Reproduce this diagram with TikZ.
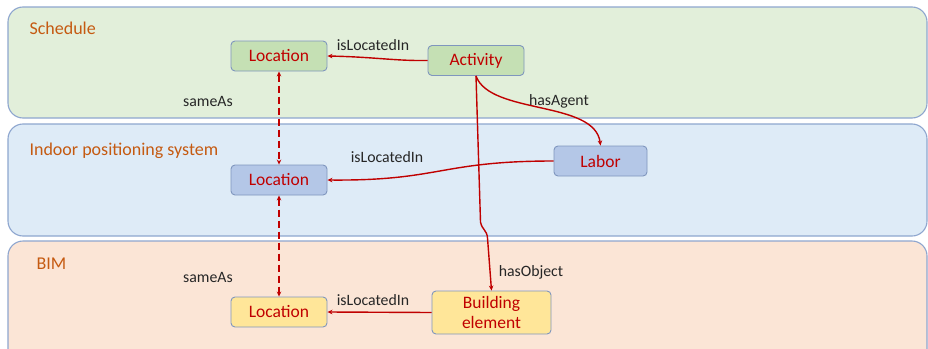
\documentclass[tikz,border=0pt]{standalone}
\usepackage{fontspec}
\setmainfont{Carlito}
\usetikzlibrary{arrows.meta}
\definecolor{bandline}{HTML}{8EA6CF}
\definecolor{schedfill}{HTML}{E2EFDA}
\definecolor{ipsfill}{HTML}{DEEBF7}
\definecolor{bimfill}{HTML}{FBE5D6}
\definecolor{titlecol}{HTML}{C55A11}
\definecolor{relred}{HTML}{C00000}
\definecolor{greenbox}{HTML}{C5E0B4}
\definecolor{bluebox}{HTML}{B4C7E7}
\definecolor{yellowbox}{HTML}{FFE699}
\definecolor{boxline}{HTML}{7F96BE}
\tikzset{
  band/.style={draw=bandline, line width=1.1pt, rounded corners=15pt},
  bandtitle/.style={anchor=west, text=titlecol, font=\fontsize{18}{20}\selectfont},
  concept/.style={draw=boxline, line width=0.9pt, rounded corners=4pt,
    text=relred, font=\fontsize{17.5}{18}\selectfont, minimum width=96pt,
    minimum height=30pt, inner sep=2pt, align=center},
  rel/.style={draw=relred, line width=1.4pt, -{Stealth[length=5pt,width=4.5pt]}},
  same/.style={draw=relred, line width=1.5pt, dash pattern=on 7pt off 4pt,
    {Stealth[length=5pt,width=4.5pt]}-{Stealth[length=5pt,width=4.5pt]}},
  rellabel/.style={text=black!85, font=\fontsize{15.8}{17}\selectfont}
}
\begin{document}
\begin{tikzpicture}[x=1pt,y=-1pt]
\clip (0,0) rectangle (928,348);
\fill[white] (0,0) rectangle (928,348);

% swim lanes
\draw[band, fill=schedfill] (8,7) rectangle (927,118);
\draw[band, fill=ipsfill] (8,124) rectangle (927,236);
\draw[band, fill=bimfill] (8,241) rectangle (927,365);

\node[bandtitle] (tsched) at (26,28) {Schedule};
\node[bandtitle] (tips) at (26,151) {Indoor positioning system};
\node[bandtitle] (tbim) at (33,264) {BIM};

% concepts
\node[concept, fill=greenbox] (locS) at (279,56) {Location};
\node[concept, fill=greenbox] (act) at (476,60.5) {Activity};
\node[concept, fill=bluebox] (locI) at (279,180) {Location};
\node[concept, fill=bluebox, minimum width=93pt] (labor) at (600.5,161) {Labor};
\node[concept, fill=yellowbox] (locB) at (279,312) {Location};
\node[concept, fill=yellowbox, minimum width=119pt, minimum height=43pt,
  font=\fontsize{17.5}{20}\selectfont] (elem) at (491.5,312.5) {Building\\element};

% bend points of the hasObject edge
\coordinate (ob1) at (480.5,222);
\coordinate (ob2) at (487.5,238);

% relations
\draw[rel] (act.west) .. controls (395,61) and (375,57) .. (locS.east);
\draw[rel] (labor.west) .. controls (440,161) and (440,181) .. (locI.east);
\draw[rel] (elem.west) -- (locB.east);
\draw[rel] (act.south) .. controls (490,115) and (595,100) .. (labor.north);
\draw[rel] (act.south) -- (ob1) .. controls (482,230) and (487,230) .. (ob2) -- (elem.north);
\draw[same] (locS.south) -- (locI.north);
\draw[same] (locI.south) -- (locB.north);

% relation names
\node[rellabel] (l1) at (373,45) {isLocatedIn};
\node[rellabel] (l2) at (387,157) {isLocatedIn};
\node[rellabel] (l3) at (373,300) {isLocatedIn};
\node[rellabel] (l4) at (559,101) {hasAgent};
\node[rellabel] (l5) at (531,272) {hasObject};
\node[rellabel] (l6) at (208,101) {sameAs};
\node[rellabel] (l7) at (208,277) {sameAs};
\end{tikzpicture}
\end{document}
